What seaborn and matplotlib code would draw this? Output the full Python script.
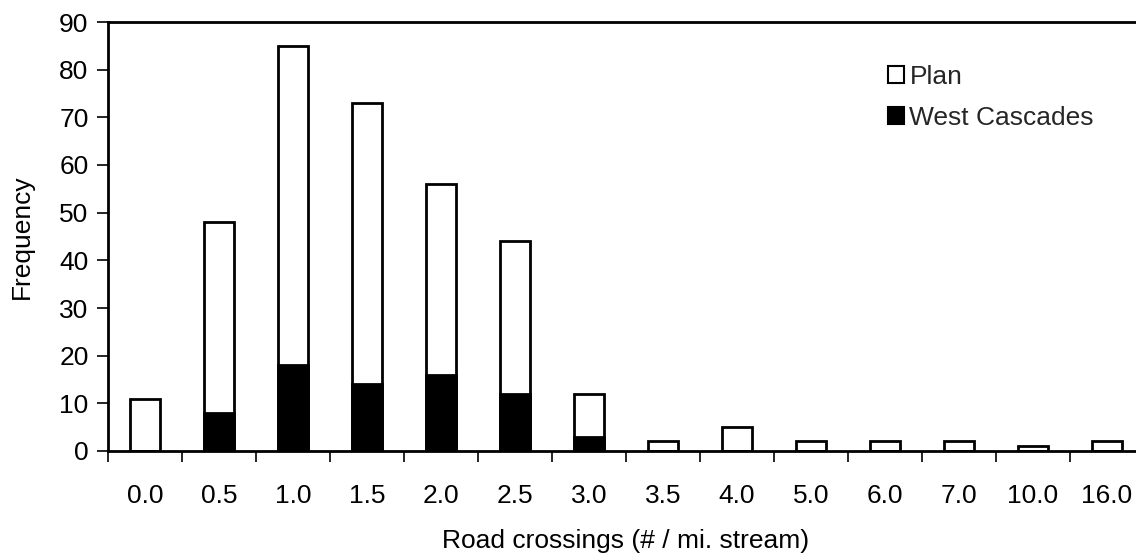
import matplotlib
matplotlib.use("Agg")
import matplotlib.pyplot as plt
import seaborn as sns
import pandas as pd
import numpy as np
from matplotlib.patches import Patch

categories = ["0.0", "0.5", "1.0", "1.5", "2.0", "2.5", "3.0", "3.5", "4.0", "5.0", "6.0", "7.0", "10.0", "16.0"]
plan = [11, 48, 85, 73, 56, 44, 12, 2, 5, 2, 2, 2, 1, 2]
west_cascades = [0, 8, 18, 14, 16, 12, 3, 0, 0, 0, 0, 0, 0, 0]

sns.set_theme(style="white")
plt.rcParams['font.family'] = ['Liberation Sans', 'DejaVu Sans']
FS = 19

fig = plt.figure(figsize=(11.36, 5.6), dpi=100)
ax = fig.add_axes([108/1136, 1 - 451/560, 1036/1136, (451 - 22)/560])

df = pd.DataFrame({"cat": categories, "Plan": plan, "West Cascades": west_cascades})

sns.barplot(data=df, x="cat", y="Plan", order=categories, color="white",
            edgecolor="black", linewidth=2, width=0.405, ax=ax, saturation=1)
sns.barplot(data=df, x="cat", y="West Cascades", order=categories, color="black",
            edgecolor="black", linewidth=2, width=0.405, ax=ax, saturation=1)

ax.set_xlim(-0.5, len(categories) - 0.5)
ax.set_ylim(0, 90)
ax.set_yticks(np.arange(0, 91, 10))
ax.set_xticks(np.arange(-0.5, len(categories) - 0.5, 1.0), minor=True)
ax.tick_params(axis="x", which="major", length=0, pad=24, labelsize=FS, labelcolor="black")
ax.tick_params(axis="x", which="minor", length=8, width=1.2, color="black", direction="out", bottom=True)
ax.tick_params(axis="y", which="major", length=8, width=1.2, color="black", direction="out", left=True,
               labelsize=FS, pad=6, labelcolor="black")

for s in ["left", "bottom", "top"]:
    ax.spines[s].set_visible(True)
    ax.spines[s].set_color("black")
    ax.spines[s].set_linewidth(2)
ax.spines["right"].set_visible(False)

ax.set_xlabel("Road crossings (# / mi. stream)", fontsize=FS, labelpad=15, color="black")
ax.set_ylabel("Frequency", fontsize=FS, labelpad=18, color="black")

handles = [Patch(facecolor="white", edgecolor="black", linewidth=1.5, label="Plan"),
           Patch(facecolor="black", edgecolor="black", linewidth=1.5, label="West Cascades")]
ax.legend(handles=handles, loc="upper left", bbox_to_anchor=(0.743, 0.924), frameon=False,
          fontsize=FS, handlelength=0.6, handleheight=0.6, handletextpad=0.2, labelspacing=0.63,
          borderaxespad=0)

fig.savefig("out.png", dpi=100)
